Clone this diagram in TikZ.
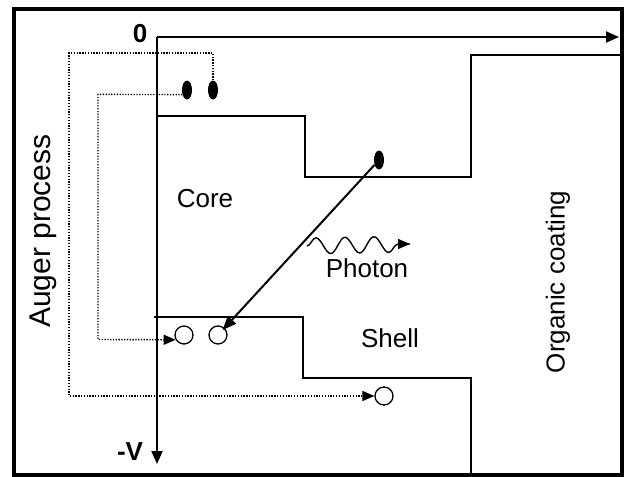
\documentclass[tikz,border=0pt]{standalone}
\usepackage{fontspec}
\setmainfont{Liberation Sans}
\usetikzlibrary{arrows.meta,shapes.geometric,decorations.pathmorphing}
\begin{document}
\begin{tikzpicture}[x=1pt,y=-1pt,
  frame/.style={line width=4pt},
  axis/.style={line width=2pt,-{Triangle[length=13pt,width=11pt]}},
  band/.style={line width=1.6pt},
  elec/.style={ellipse,fill=black,inner sep=0pt,minimum width=10pt,minimum height=19pt},
  hole/.style={circle,draw,line width=1.3pt,inner sep=0pt,minimum size=18pt},
  auger/.style={line width=1.4pt,dash pattern=on 1.3pt off 1.5pt,-{Triangle[length=12pt,width=10pt]}},
  lbl/.style={font=\fontsize{26}{26}\selectfont,inner sep=0pt},
  axlbl/.style={font=\fontsize{26}{26}\selectfont\bfseries,inner sep=0pt}]
\useasboundingbox (0,0) rectangle (625,477);
\draw[frame] (14,9) rectangle (621.5,475);
% axes
\coordinate (O) at (157,37);
\coordinate (Vend) at (157,464);
\coordinate (Xend) at (619,37);
\draw[axis] (O) -- (Vend);
\draw[axis] (O) -- (Xend);
\node[axlbl] (zero) at (140,34) {0};
\node[axlbl] (mv) at (130,452) {-V};
% bands
\draw[band] (157,116) -- (305,116) -- (305,177) -- (471,177) -- (471,55) -- (619.5,55);
\draw[band] (154,317) -- (303,317) -- (303,378) -- (471,378) -- (471,473);
% electrons and holes
\node[elec] (e1) at (187,90) {};
\node[elec] (e2) at (213,90) {};
\node[elec] (e3) at (379,160) {};
\node[hole] (h1) at (184,335) {};
\node[hole] (h2) at (218,335) {};
\node[hole] (h3) at (384,396) {};
% Auger paths
\draw[auger] (e2.north) -- (e2.north |- 0,53) -- (69,53) -- (69,396) -- (h3.west);
\draw[auger] (e1.225) -- (98,94.4) -- (98,339.5) -- (h1.210);
% recombination
\draw[line width=2pt,-{Triangle[length=14pt,width=11pt]},shorten >=-3pt] (e3) -- (h2);
% photon
\coordinate (ph1) at (307,246);
\coordinate (ph2) at (410,244);
\draw[line width=1.4pt,decorate,decoration={snake,amplitude=8pt,segment length=29pt,post length=9pt}] (ph1) -- (ph2);
\draw[line width=1.4pt,-{Triangle[length=12pt,width=10pt]}] (399,244) -- (ph2);
% labels
\node[lbl] (core) at (205,199) {Core};
\node[lbl] (photon) at (367,268) {Photon};
\node[lbl] (shell) at (390,338) {Shell};
\node[lbl,rotate=90] (org) at (558,282) {Organic coating};
\node[font=\fontsize{30}{30}\selectfont,inner sep=0pt,rotate=90] (aug) at (43.5,231) {Auger process};
\end{tikzpicture}
\end{document}
